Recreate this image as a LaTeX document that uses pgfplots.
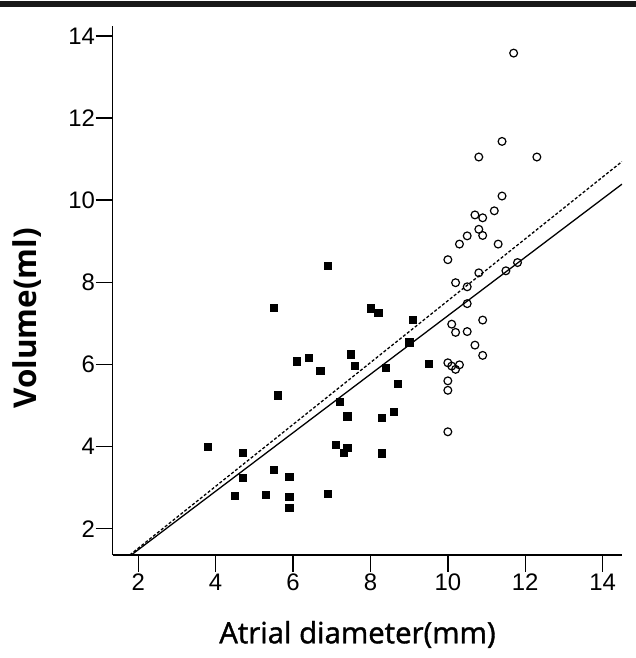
\documentclass[border=0pt]{standalone}
\usepackage{fontspec}
\setmainfont{Liberation Sans}
\newfontfamily\xlabfont[FakeBold=1.3]{Open Sans}
\newfontfamily\ylabfont{Open Sans}
\usepackage{pgfplots}
\pgfplotsset{compat=1.18}

\begin{document}
\begin{tikzpicture}
    \useasboundingbox (0,0) rectangle (636bp,658bp);
    % rule across the top of the figure
    \draw[line width=6.6bp, black!90] (0,654bp) -- (636bp,654bp);

    \begin{axis}[
        at={(112.7bp,103bp)},
        anchor=south west,
        width=509.3bp,
        height=529bp,
        scale only axis,
        xmin=1.34, xmax=14.5,
        ymin=1.36, ymax=14.24,
        axis x line*=bottom,
        axis y line*=left,
        axis line style={line width=1.3bp, -},
        xtick={2,4,...,14},
        ytick={2,4,...,14},
        tick align=outside,
        every tick/.style={line width=1.3bp, black},
        major tick length=17bp,
        /pgf/number format/assume math mode=true,
        tick label style={font=\fontsize{24}{24}\selectfont},
        yticklabel style={inner sep=0.5bp},
        xticklabel style={inner sep=2bp},
        xlabel={Atrial diameter(mm)},
        ylabel={Volume(ml)},
        xlabel style={at={(axis description cs:0.4807,-0.1669)}, anchor=base,
            font=\xlabfont\fontsize{29.5}{30}\selectfont},
        ylabel style={at={(axis description cs:-0.1492,0.447)}, anchor=base,
            font=\ylabfont\bfseries\fontsize{31.5}{32}\selectfont},
        clip=true,
    ]
    % small atria: filled squares
    \addplot[only marks, mark=square*, mark size=3.6bp, black] coordinates {
        (3.8,3.99) (4.5,2.80) (4.7,3.86) (4.7,3.24) (5.3,2.83)
        (5.5,7.38) (5.5,3.43) (5.6,5.25) (5.9,3.27) (5.9,2.78)
        (5.9,2.51) (6.1,6.08) (6.4,6.16) (6.7,5.85) (6.9,8.40)
        (6.9,2.85) (7.1,4.04) (7.2,5.10) (7.3,3.86) (7.4,4.74)
        (7.4,3.98) (7.5,6.25) (7.6,5.97) (8.0,7.37) (8.2,7.25)
        (8.3,4.71) (8.3,3.84) (8.4,5.92) (8.6,4.85) (8.7,5.54)
        (9.0,6.54) (9.1,7.08) (9.5,6.01)
    };
    % large atria: open circles
    \addplot[only marks, mark=o, mark size=3.9bp, black, mark options={line width=1.2bp}] coordinates {
        (10.0,4.36) (10.0,5.37) (10.0,5.60) (10.0,6.04) (10.1,5.96)
        (10.2,5.88) (10.3,5.99) (10.1,6.98) (10.2,6.78) (10.5,6.80)
        (10.7,6.47) (10.9,6.22) (10.9,7.08) (10.5,7.48) (10.5,7.89)
        (10.2,7.99) (10.8,8.23) (11.5,8.28) (11.8,8.48) (10.0,8.55)
        (10.3,8.93) (11.3,8.93) (10.5,9.13) (10.9,9.14) (10.8,9.29)
        (10.9,9.57) (10.7,9.64) (11.2,9.74) (11.4,10.10) (10.8,11.05)
        (12.3,11.05) (11.4,11.43) (11.7,13.58)
    };
    % fit lines
    \addplot[black, line width=1.3bp] coordinates {(1.82,1.36) (14.5,10.39)};
    \addplot[black, line width=1.3bp, dash pattern=on 3bp off 2bp] coordinates {(1.78,1.36) (14.5,10.94)};
    \end{axis}
\end{tikzpicture}
\end{document}
